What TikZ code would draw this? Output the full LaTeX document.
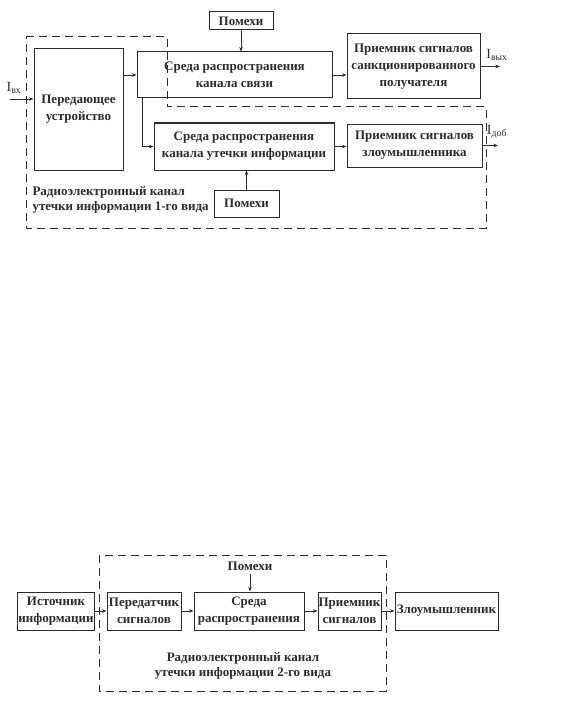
\documentclass[tikz,border=0pt]{standalone}
\usepackage{fontspec}
\setmainfont{Liberation Serif}
\usetikzlibrary{arrows.meta,calc}
\definecolor{ink}{HTML}{2B2B2B}

\begin{document}
\begin{tikzpicture}[x=1pt,y=-1pt,
  box/.style={draw=ink,line width=1pt,align=center,inner sep=0.5pt,text=ink,font=\fontsize{13}{17}\selectfont\bfseries},
  arr/.style={draw=ink,line width=0.7pt,-{Stealth[length=4.5pt,width=3.5pt]}},
  frame/.style={draw=ink,line width=1pt,dash pattern=on 8pt off 5pt},
  lbl/.style={text=ink,font=\fontsize{13}{15}\selectfont\bfseries},
  sig/.style={text=ink,font=\fontsize{14}{15}\selectfont}]
  \useasboundingbox (0,0) rectangle (578,706);
  % channel of the 1st kind
  \draw[frame] (26,37) -- (167,37) -- (167,107) -- (486,107) -- (486,228) -- (26,228) -- cycle;
  \node[box,minimum width=64pt,minimum height=18pt] (pom1) at (241,21) {Помехи};
  \node[box,minimum width=89pt,minimum height=121pt] (tx) at (78.5,109.5) {Передающее\\устройство};
  \node[box,minimum width=195pt,minimum height=46pt] (sreda1) at (234.5,75) {Среда распространения\\канала связи};
  \node[box,minimum width=133pt,minimum height=65pt] (rx1) at (413.5,66.5) {Приемник сигналов\\санкционированного\\получателя};
  \node[box,minimum width=180pt,minimum height=47pt] (sreda2) at (244,146.5) {Среда распространения\\канала утечки информации};
  \node[box,minimum width=135pt,minimum height=43pt] (rx2) at (414.5,145.5) {Приемник сигналов\\злоумышленника};
  \node[box,minimum width=65pt,minimum height=27pt] (pom2) at (246.5,203.5) {Помехи};
  \node[lbl,anchor=west,align=left] (kind1) at (29,200) {Радиоэлектронный канал\\утечки информации 1-го вида};
  \coordinate (in) at (10,99);
  \coordinate (out1) at (500,66.5);
  \coordinate (out2) at (498,145.5);
  \coordinate (br) at ($(sreda1.south west)+(6,0)$);
  \draw[arr] (in) -- (in -| tx.west);
  \draw[arr] (tx.east |- sreda1) -- (sreda1.west);
  \draw[arr] (br) -- (br |- sreda2) -- (sreda2.west);
  \draw[arr] (pom1.south) -- (pom1.south |- sreda1.north);
  \draw[arr] (pom2.north) -- (pom2.north |- sreda2.south);
  \draw[arr] (sreda1.east) -- (sreda1.east -| rx1.west);
  \draw[arr] (sreda2.east) -- (sreda2.east -| rx2.west);
  \draw[arr] (rx1.east) -- (out1);
  \draw[arr] (rx2.east) -- (out2);
  \node[sig] (ivx) at (14,88) {I\textsubscript{вх}};
  \node[sig] (ivyx) at (497,55) {I\textsubscript{вых}};
  \node[sig] (idob) at (497,132) {I\textsubscript{доб}};
  % channel of the 2nd kind
  \draw[frame] (99,555) rectangle (386,691);
  \node[lbl] (pom3) at (250,566) {Помехи};
  \node[box,minimum width=76pt,minimum height=38pt] (src) at (56,611) {Источник\\информации};
  \node[box,minimum width=74pt,minimum height=38pt] (trm) at (144,611) {Передатчик\\сигналов};
  \node[box,minimum width=110pt,minimum height=38pt] (sreda3) at (249,611) {Среда\\распространения};
  \node[box,minimum width=63pt,minimum height=38pt] (rcv) at (349.5,611) {Приемник\\сигналов};
  \node[box,minimum width=103pt,minimum height=38pt] (att) at (446.5,611) {Злоумышленник};
  \node[lbl,align=center] (kind2) at (243,666) {Радиоэлектронный канал\\утечки информации 2-го вида};
  \draw[arr] (pom3) -- (pom3 |- sreda3.north);
  \draw[arr] (src) -- (trm);
  \draw[arr] (trm) -- (sreda3);
  \draw[arr] (sreda3) -- (rcv);
  \draw[arr] (rcv) -- (att);
\end{tikzpicture}
\end{document}
